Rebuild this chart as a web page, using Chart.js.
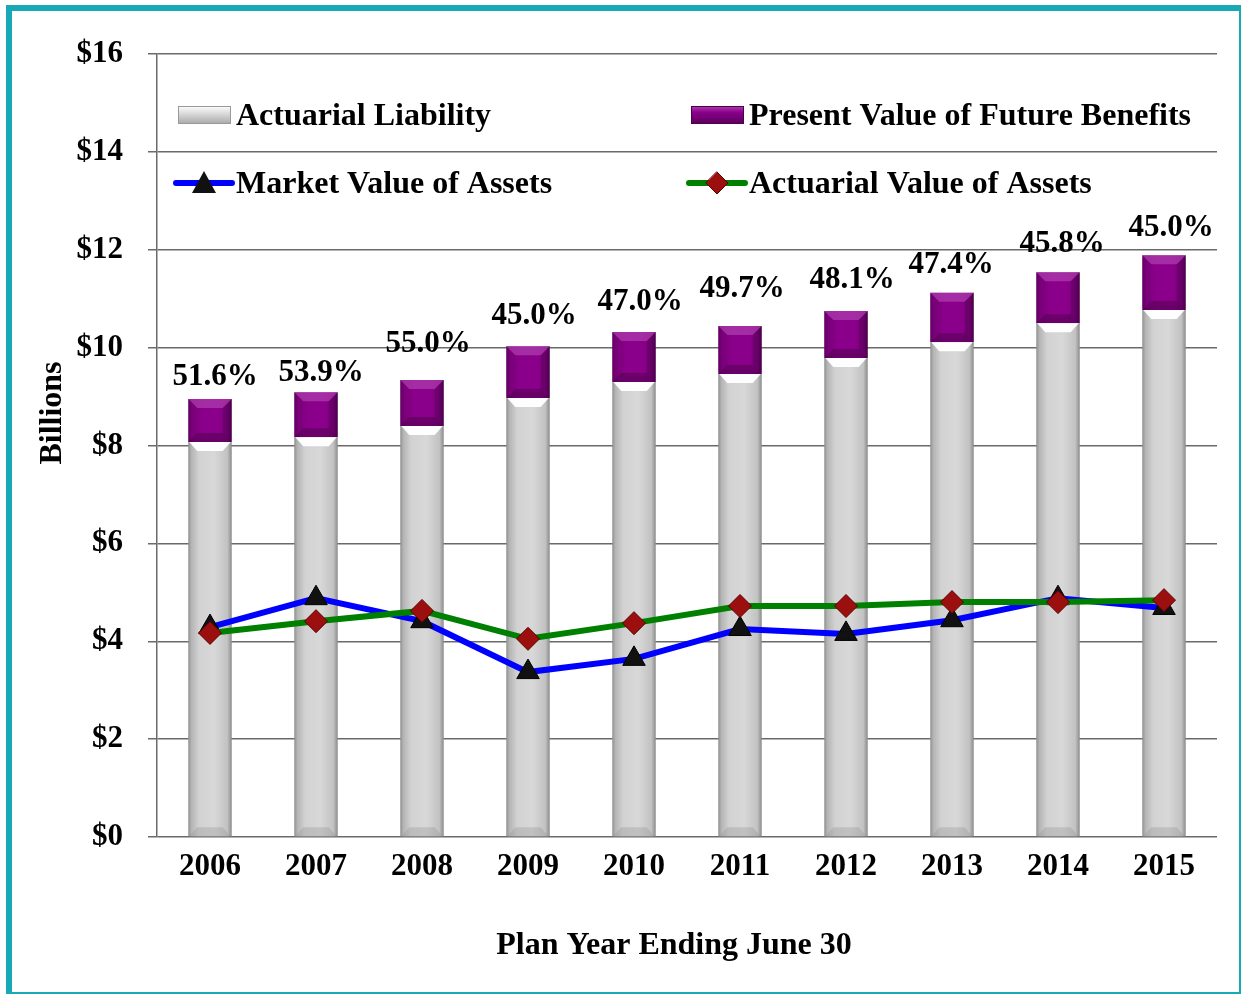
<!DOCTYPE html>
<html>
<head>
<meta charset="utf-8">
<script src="https://cdn.jsdelivr.net/npm/chart.js@4.4.1/dist/chart.umd.min.js"></script>
<style>
  html, body { margin: 0; padding: 0; background: #fff; }
  #wrap { position: relative; width: 1241px; height: 994px; overflow: hidden; }
  canvas { display: block; }
</style>
</head>
<body>
<div id="wrap"><canvas id="c" width="1241" height="994"></canvas></div>
<script>
// ---- Data ----
const years = ['2006','2007','2008','2009','2010','2011','2012','2013','2014','2015'];
const actuarialLiability = [8.07, 8.17, 8.40, 8.97, 9.30, 9.46, 9.79, 10.11, 10.50, 10.77];
const presentValueFutureBenefits = [8.95, 9.09, 9.34, 10.03, 10.32, 10.44, 10.75, 11.12, 11.54, 11.89];
const marketValueAssets = [4.29, 4.88, 4.41, 3.37, 3.64, 4.25, 4.15, 4.43, 4.88, 4.68];
const actuarialValueAssets = [4.17, 4.41, 4.62, 4.05, 4.37, 4.72, 4.72, 4.80, 4.80, 4.84];
const fundedRatioLabels = ['51.6%','53.9%','55.0%','45.0%','47.0%','49.7%','48.1%','47.4%','45.8%','45.0%'];
const yTickValues = [0, 2, 4, 6, 8, 10, 12, 14, 16];
const legendNames = ['Actuarial Liability','Present Value of Future Benefits','Market Value of Assets','Actuarial Value of Assets'];
const xAxisTitle = 'Plan Year Ending June 30';
const yAxisTitle = 'Billions';

// label placement nudges (pixels, styling only)
const labelDx = [5, 5, 6, 6, 6, 2, 6, -1, 4, 7];
const labelDy = [-22, -19, -36, -30, -30, -37, -31, -28, -28, -27];

const FONT = '"Liberation Serif", "Times New Roman", serif';
const BAR_PCT = 0.41;

function barGradient(ctx, stops) {
  const chart = ctx.chart;
  const xs = chart.scales && chart.scales.x;
  const fallback = stops[3][1];
  if (!xs || typeof ctx.dataIndex !== 'number') return fallback;
  const cx = xs.getPixelForValue(ctx.dataIndex);
  const w = xs.width / years.length * BAR_PCT;
  if (!isFinite(cx) || !isFinite(w) || w <= 0) return fallback;
  const g = chart.ctx.createLinearGradient(cx - w / 2, 0, cx + w / 2, 0);
  stops.forEach(s => g.addColorStop(s[0], s[1]));
  return g;
}
const greyStops = [[0,'#8e8e8e'],[0.07,'#b4b4b4'],[0.25,'#d2d2d2'],[0.6,'#d8d8d8'],[0.9,'#c2c2c2'],[1,'#8a8a8a']];
const purpleStops = [[0,'#5a005a'],[0.1,'#7d007d'],[0.35,'#8b008b'],[0.7,'#8b008b'],[0.9,'#7d007d'],[1,'#520052']];

// bevel decoration on each bar
const bevelPlugin = {
  id: 'bevel',
  afterDatasetDraw(chart, args) {
    const ds = chart.data.datasets[args.index];
    if (!ds.bevel) return;
    const ctx = chart.ctx;
    args.meta.data.forEach(el => {
      const { x, y, width, base } = el.getProps(['x', 'y', 'width', 'base'], true);
      const l = x - width / 2, r = x + width / 2;
      const d = 9;
      ctx.save();
      const trap = (pts, fill) => {
        ctx.beginPath();
        ctx.moveTo(pts[0][0], pts[0][1]);
        for (let k = 1; k < pts.length; k++) ctx.lineTo(pts[k][0], pts[k][1]);
        ctx.closePath();
        ctx.fillStyle = fill; ctx.fill();
      };
      if (ds.bevel === 'grey') {
        trap([[l + 1, y], [r - 1, y], [r - d, y + d], [l + d, y + d]], 'rgba(255,255,255,0.97)');
        trap([[l + d, base - d], [r - d, base - d], [r - 1, base], [l + 1, base]], 'rgba(150,150,150,0.35)');
      } else {
        const dd = Math.min(d, (base - y) / 2);
        trap([[l, y], [r, y], [r - dd, y + dd], [l + dd, y + dd]], 'rgba(185,80,185,0.55)');
        trap([[l, y], [l + dd, y + dd], [l + dd, base - dd], [l, base]], 'rgba(120,0,120,0.3)');
        trap([[r, y], [r - dd, y + dd], [r - dd, base - dd], [r, base]], 'rgba(60,0,60,0.3)');
        trap([[l + dd, base - dd], [r - dd, base - dd], [r, base], [l, base]], 'rgba(60,0,60,0.4)');
      }
      ctx.restore();
    });
  }
};

const decorPlugin = {
  id: 'decor',
  afterDraw(chart) {
    const ctx = chart.ctx;
    const xs = chart.scales.x, ys = chart.scales.y;
    ctx.save();
    ctx.font = 'bold 31px ' + FONT;
    ctx.fillStyle = '#000';
    ctx.textAlign = 'center';
    ctx.textBaseline = 'middle';
    fundedRatioLabels.forEach((t, i) => {
      const x = xs.getPixelForValue(i) + labelDx[i];
      const y = ys.getPixelForValue(presentValueFutureBenefits[i]) + labelDy[i];
      ctx.fillText(t, x, y);
    });
    ctx.font = 'bold 32px ' + FONT;
    ctx.fillText(xAxisTitle, 674, 946);
    ctx.save();
    ctx.translate(53, 413);
    ctx.rotate(-Math.PI / 2);
    ctx.fillText(yAxisTitle, 0, 0);
    ctx.restore();

    // legend
    ctx.textAlign = 'left';
    ctx.font = 'bold 32px ' + FONT;
    const rows = [115, 183];
    const colIcon = [178, 691];
    const colText = [236, 749];
    [[0, 0], [1, 0]].forEach(([c, r]) => {
      const x0 = colIcon[c], w = 53, h = 18, y0 = rows[r] - 9;
      const g = ctx.createLinearGradient(0, y0, 0, y0 + h);
      if (c === 0) { g.addColorStop(0,'#ffffff'); g.addColorStop(0.35,'#e0e0e0'); g.addColorStop(1,'#a8a8a8'); }
      else { g.addColorStop(0,'#b040b0'); g.addColorStop(0.35,'#8a008a'); g.addColorStop(1,'#5a005a'); }
      ctx.fillStyle = g;
      ctx.fillRect(x0, y0, w, h);
      ctx.strokeStyle = c === 0 ? '#999' : '#4a004a';
      ctx.lineWidth = 1;
      ctx.strokeRect(x0 + 0.5, y0 + 0.5, w - 1, h - 1);
    });
    const lineIcon = (x0, y, color, marker) => {
      ctx.strokeStyle = color; ctx.lineWidth = 6; ctx.lineCap = 'round';
      ctx.beginPath(); ctx.moveTo(x0, y); ctx.lineTo(x0 + 56, y); ctx.stroke();
      const cx = x0 + 28;
      ctx.beginPath();
      if (marker === 'tri') {
        ctx.moveTo(cx, y - 12); ctx.lineTo(cx + 12, y + 10); ctx.lineTo(cx - 12, y + 10); ctx.closePath();
        ctx.fillStyle = '#111'; ctx.fill();
      } else {
        ctx.moveTo(cx, y - 11); ctx.lineTo(cx + 11, y); ctx.lineTo(cx, y + 11); ctx.lineTo(cx - 11, y); ctx.closePath();
        ctx.fillStyle = '#9b0f0f'; ctx.fill();
        ctx.strokeStyle = '#5a0000'; ctx.lineWidth = 1; ctx.stroke();
      }
    };
    lineIcon(176, rows[1], '#0000ff', 'tri');
    lineIcon(689, rows[1], '#008000', 'dia');
    ctx.fillStyle = '#000';
    ctx.fillText(legendNames[0], colText[0], rows[0] + 2);
    ctx.fillText(legendNames[1], colText[1], rows[0] + 2);
    ctx.fillText(legendNames[2], colText[0], rows[1] + 2);
    ctx.fillText(legendNames[3], colText[1], rows[1] + 2);

    ctx.strokeStyle = '#19a8b6';
    ctx.lineWidth = 6;
    ctx.strokeRect(9, 8, 1233, 987);
    ctx.restore();
  }
};

new Chart(document.getElementById('c'), {
  data: {
    labels: years,
    datasets: [
      {
        type: 'line', label: legendNames[3], data: actuarialValueAssets, order: 0,
        borderColor: '#008000', borderWidth: 6, backgroundColor: '#9b0f0f',
        pointStyle: 'rectRot', pointRadius: 11.5, pointBorderColor: '#5a0000', pointBorderWidth: 1,
        pointBackgroundColor: '#9b0f0f', tension: 0, fill: false
      },
      {
        type: 'line', label: legendNames[2], data: marketValueAssets, order: 1,
        borderColor: '#0000ff', borderWidth: 6, backgroundColor: '#111',
        pointStyle: 'triangle', pointRadius: 13, pointBorderColor: '#000', pointBorderWidth: 1,
        pointBackgroundColor: '#111', tension: 0, fill: false
      },
      {
        type: 'bar', label: legendNames[0], data: actuarialLiability, order: 2, bevel: 'grey',
        backgroundColor: (c) => barGradient(c, greyStops),
        borderWidth: 0, barPercentage: BAR_PCT, categoryPercentage: 1
      },
      {
        type: 'bar', label: legendNames[1], order: 3, bevel: 'purple',
        data: presentValueFutureBenefits.map((v, i) => [actuarialLiability[i], v]),
        backgroundColor: (c) => barGradient(c, purpleStops),
        borderWidth: 0, barPercentage: BAR_PCT, categoryPercentage: 1
      }
    ]
  },
  options: {
    responsive: false,
    animation: false,
    devicePixelRatio: 1,
    layout: { padding: { top: 54, right: 24, left: 0, bottom: 0 } },
    plugins: { legend: { display: false }, tooltip: { enabled: false }, title: { display: false } },
    scales: {
      x: {
        stacked: true,
        offset: true,
        grid: { display: false, drawTicks: false },
        border: { display: false },
        ticks: { color: '#000', font: { family: FONT, size: 31, weight: 'bold' }, padding: 11, maxRotation: 0 },
        afterFit(s) { s.height = 157; }
      },
      y: {
        stacked: false,
        min: 0, max: 16,
        afterBuildTicks(s) { s.ticks = yTickValues.map(v => ({ value: v })); },
        grid: { color: '#6a6a6a', lineWidth: 1.5, drawTicks: true, tickLength: 9, tickColor: '#6a6a6a' },
        border: { display: true, color: '#6a6a6a', width: 1.5 },
        ticks: {
          color: '#000', font: { family: FONT, size: 31, weight: 'bold' }, padding: 25,
          callback: (v) => '$' + v
        },
        afterFit(s) { s.width = 157; }
      }
    }
  },
  plugins: [bevelPlugin, decorPlugin]
});
</script>
</body>
</html>
